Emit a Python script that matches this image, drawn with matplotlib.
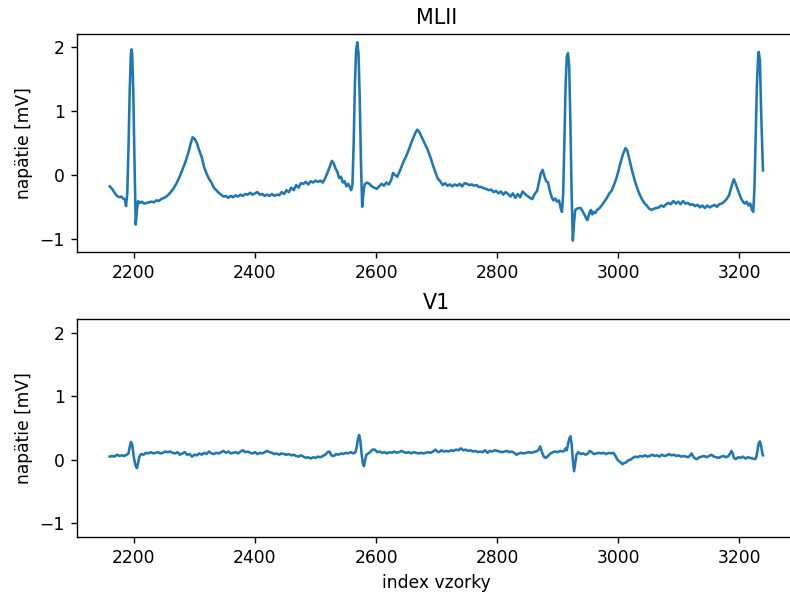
import matplotlib
matplotlib.use("Agg")
import matplotlib.pyplot as plt

# MLII lead: sample index and voltage in mV
mlii_idx = [
    2160, 2164, 2168, 2172, 2176, 2179, 2182, 2185, 2187, 2189, 2191, 2193, 2195, 2196, 2197, 2199,
    2201, 2203, 2205, 2207, 2210, 2213, 2217, 2221, 2225, 2229, 2233, 2237, 2241, 2245, 2250, 2255,
    2260, 2265, 2270, 2275, 2280, 2285, 2290, 2294, 2297, 2300, 2304, 2308, 2312, 2316, 2320, 2324,
    2328, 2332, 2336, 2340, 2344, 2348, 2352, 2356, 2360, 2364, 2368, 2372, 2376, 2380, 2384, 2388,
    2392, 2396, 2400, 2404, 2408, 2412, 2416, 2420, 2424, 2428, 2432, 2436, 2440, 2444, 2448, 2452,
    2456, 2460, 2464, 2468, 2472, 2476, 2480, 2484, 2488, 2492, 2496, 2500, 2504, 2508, 2512, 2516,
    2520, 2524, 2527, 2530, 2533, 2536, 2539, 2542, 2545, 2548, 2551, 2554, 2557, 2559, 2561, 2563,
    2565, 2567, 2569, 2571, 2573, 2575, 2577, 2579, 2581, 2585, 2589, 2593, 2597, 2601, 2605, 2609,
    2613, 2617, 2621, 2625, 2628, 2631, 2635, 2640, 2645, 2650, 2655, 2660, 2665, 2668, 2671, 2675,
    2680, 2685, 2690, 2694, 2698, 2702, 2706, 2710, 2714, 2718, 2722, 2726, 2730, 2734, 2738, 2742,
    2746, 2750, 2754, 2758, 2762, 2766, 2770, 2774, 2778, 2782, 2786, 2790, 2794, 2798, 2802, 2806,
    2810, 2814, 2818, 2822, 2826, 2830, 2834, 2838, 2842, 2846, 2850, 2854, 2858, 2862, 2866, 2869,
    2872, 2875, 2878, 2881, 2884, 2887, 2890, 2893, 2896, 2899, 2902, 2905, 2907, 2909, 2911, 2913,
    2915, 2917, 2919, 2921, 2923, 2925, 2927, 2929, 2932, 2935, 2938, 2941, 2944, 2947, 2949, 2951,
    2953, 2955, 2957, 2959, 2962, 2965, 2968, 2971, 2974, 2977, 2980, 2983, 2986, 2989, 2992, 2996,
    3000, 3004, 3008, 3012, 3015, 3019, 3023, 3027, 3031, 3035, 3039, 3043, 3047, 3051, 3055, 3059,
    3063, 3067, 3071, 3075, 3079, 3083, 3087, 3091, 3095, 3099, 3103, 3107, 3111, 3115, 3119, 3123,
    3127, 3131, 3135, 3139, 3143, 3147, 3151, 3155, 3159, 3163, 3167, 3171, 3175, 3179, 3183, 3186,
    3189, 3191, 3194, 3197, 3200, 3203, 3206, 3209, 3212, 3215, 3218, 3221, 3223, 3225, 3227, 3229,
    3231, 3232, 3234, 3236, 3239,
]
mlii_mv = [
    -0.18, -0.22, -0.28, -0.33, -0.35, -0.34, -0.37, -0.38, -0.49, -0.30, 0.40, 1.30, 1.90, 1.97, 1.92, 1.30,
    0.20, -0.78, -0.55, -0.41, -0.44, -0.42, -0.45, -0.44, -0.43, -0.42, -0.43, -0.40, -0.41, -0.38, -0.36, -0.33,
    -0.28, -0.22, -0.14, -0.04, 0.08, 0.20, 0.35, 0.50, 0.59, 0.57, 0.50, 0.38, 0.28, 0.12, 0.02, -0.06,
    -0.12, -0.20, -0.24, -0.28, -0.31, -0.34, -0.33, -0.36, -0.33, -0.35, -0.32, -0.34, -0.31, -0.33, -0.30, -0.31,
    -0.28, -0.31, -0.29, -0.27, -0.31, -0.30, -0.33, -0.31, -0.33, -0.30, -0.33, -0.31, -0.32, -0.27, -0.30, -0.24,
    -0.27, -0.20, -0.24, -0.16, -0.20, -0.13, -0.14, -0.11, -0.15, -0.10, -0.12, -0.09, -0.11, -0.09, -0.12, -0.05,
    0.04, 0.14, 0.22, 0.18, 0.10, 0.05, -0.05, -0.03, -0.12, -0.10, -0.18, -0.14, -0.20, -0.24, -0.15, 0.50,
    1.40, 1.95, 2.08, 1.90, 1.20, 0.20, -0.50, -0.30, -0.15, -0.12, -0.14, -0.18, -0.20, -0.22, -0.18, -0.14,
    -0.17, -0.12, -0.15, -0.08, 0.03, 0.00, -0.03, 0.08, 0.20, 0.30, 0.42, 0.55, 0.66, 0.71, 0.68, 0.60,
    0.50, 0.40, 0.27, 0.15, 0.04, -0.06, -0.10, -0.16, -0.13, -0.17, -0.15, -0.18, -0.15, -0.17, -0.14, -0.18,
    -0.13, -0.14, -0.16, -0.15, -0.17, -0.16, -0.19, -0.19, -0.21, -0.22, -0.24, -0.23, -0.27, -0.25, -0.29, -0.26,
    -0.31, -0.27, -0.30, -0.34, -0.29, -0.36, -0.30, -0.35, -0.26, -0.30, -0.33, -0.36, -0.38, -0.30, -0.25, -0.12,
    0.02, 0.08, -0.02, -0.10, -0.12, -0.25, -0.35, -0.40, -0.37, -0.42, -0.40, -0.52, -0.58, -0.30, 0.50, 1.40,
    1.85, 1.91, 1.70, 0.80, -0.30, -1.03, -0.75, -0.55, -0.53, -0.52, -0.52, -0.57, -0.62, -0.68, -0.71, -0.64,
    -0.58, -0.55, -0.62, -0.58, -0.60, -0.55, -0.53, -0.50, -0.46, -0.42, -0.38, -0.33, -0.28, -0.25, -0.18, -0.08,
    0.05, 0.20, 0.33, 0.42, 0.38, 0.22, 0.06, -0.08, -0.20, -0.30, -0.38, -0.44, -0.48, -0.53, -0.55, -0.53,
    -0.52, -0.51, -0.48, -0.50, -0.46, -0.44, -0.46, -0.41, -0.45, -0.42, -0.46, -0.41, -0.45, -0.44, -0.47, -0.46,
    -0.49, -0.47, -0.51, -0.48, -0.52, -0.48, -0.51, -0.49, -0.47, -0.50, -0.46, -0.45, -0.42, -0.38, -0.32, -0.22,
    -0.12, -0.07, -0.14, -0.22, -0.30, -0.37, -0.42, -0.45, -0.42, -0.48, -0.45, -0.55, -0.58, -0.20, 0.60, 1.40,
    1.85, 1.93, 1.80, 1.00, 0.07,
]

# V1 lead: sample index and voltage in mV
v1_idx = [
    2160, 2164, 2168, 2172, 2176, 2180, 2184, 2188, 2191, 2193, 2195, 2197, 2199, 2201, 2203, 2205,
    2207, 2209, 2212, 2216, 2220, 2224, 2228, 2232, 2236, 2240, 2244, 2248, 2252, 2256, 2260, 2264,
    2268, 2272, 2276, 2280, 2284, 2288, 2292, 2296, 2300, 2304, 2308, 2312, 2316, 2320, 2324, 2328,
    2332, 2336, 2340, 2344, 2348, 2352, 2356, 2360, 2364, 2368, 2372, 2376, 2380, 2384, 2388, 2392,
    2396, 2400, 2404, 2408, 2412, 2416, 2420, 2424, 2428, 2432, 2436, 2440, 2444, 2448, 2452, 2456,
    2460, 2464, 2468, 2472, 2476, 2480, 2484, 2488, 2492, 2496, 2500, 2504, 2508, 2512, 2516, 2520,
    2523, 2526, 2530, 2534, 2538, 2542, 2546, 2550, 2554, 2558, 2562, 2566, 2568, 2570, 2572, 2574,
    2576, 2578, 2580, 2582, 2584, 2587, 2590, 2594, 2598, 2602, 2606, 2610, 2614, 2618, 2622, 2626,
    2630, 2634, 2638, 2642, 2646, 2650, 2654, 2658, 2662, 2666, 2670, 2674, 2678, 2682, 2686, 2690,
    2694, 2698, 2701, 2704, 2708, 2712, 2716, 2720, 2724, 2728, 2732, 2736, 2740, 2744, 2748, 2752,
    2756, 2760, 2764, 2768, 2772, 2776, 2780, 2784, 2788, 2792, 2796, 2800, 2804, 2808, 2812, 2816,
    2820, 2824, 2828, 2832, 2836, 2840, 2844, 2848, 2852, 2856, 2860, 2864, 2868, 2871, 2874, 2877,
    2880, 2884, 2888, 2892, 2896, 2900, 2904, 2908, 2911, 2913, 2915, 2917, 2919, 2921, 2923, 2925,
    2927, 2929, 2931, 2934, 2938, 2942, 2946, 2950, 2953, 2956, 2960, 2964, 2968, 2972, 2976, 2980,
    2984, 2988, 2992, 2995, 2998, 3001, 3004, 3007, 3010, 3013, 3016, 3020, 3024, 3028, 3032, 3036,
    3040, 3044, 3048, 3052, 3056, 3060, 3064, 3068, 3072, 3076, 3080, 3084, 3088, 3092, 3096, 3100,
    3104, 3108, 3112, 3115, 3118, 3121, 3124, 3127, 3130, 3134, 3138, 3142, 3146, 3150, 3154, 3158,
    3162, 3166, 3170, 3174, 3178, 3182, 3185, 3187, 3189, 3191, 3194, 3198, 3202, 3206, 3210, 3214,
    3218, 3222, 3226, 3228, 3230, 3232, 3234, 3236, 3238, 3239,
]
v1_mv = [
    0.05, 0.06, 0.05, 0.08, 0.06, 0.07, 0.06, 0.08, 0.10, 0.20, 0.28, 0.25, 0.10, -0.02, -0.10, -0.13,
    -0.05, 0.05, 0.09, 0.08, 0.11, 0.10, 0.12, 0.10, 0.11, 0.12, 0.10, 0.11, 0.13, 0.12, 0.13, 0.11,
    0.10, 0.12, 0.08, 0.10, 0.12, 0.08, 0.09, 0.05, 0.08, 0.07, 0.10, 0.08, 0.11, 0.09, 0.13, 0.10,
    0.09, 0.11, 0.10, 0.12, 0.14, 0.11, 0.13, 0.10, 0.11, 0.12, 0.10, 0.13, 0.15, 0.12, 0.13, 0.11,
    0.10, 0.12, 0.09, 0.11, 0.10, 0.12, 0.14, 0.12, 0.11, 0.09, 0.10, 0.08, 0.10, 0.09, 0.08, 0.09,
    0.07, 0.08, 0.06, 0.05, 0.07, 0.05, 0.03, 0.04, 0.02, 0.04, 0.03, 0.05, 0.04, 0.06, 0.08, 0.12,
    0.13, 0.07, 0.06, 0.09, 0.08, 0.10, 0.09, 0.11, 0.10, 0.12, 0.10, 0.12, 0.20, 0.32, 0.39, 0.30,
    0.10, -0.05, -0.10, 0.00, 0.08, 0.10, 0.12, 0.16, 0.16, 0.12, 0.13, 0.11, 0.12, 0.10, 0.12, 0.11,
    0.13, 0.11, 0.12, 0.14, 0.12, 0.11, 0.12, 0.10, 0.12, 0.11, 0.10, 0.11, 0.10, 0.11, 0.12, 0.11,
    0.13, 0.16, 0.13, 0.12, 0.15, 0.13, 0.14, 0.13, 0.15, 0.14, 0.16, 0.15, 0.18, 0.15, 0.16, 0.14,
    0.15, 0.13, 0.14, 0.12, 0.13, 0.12, 0.15, 0.11, 0.14, 0.13, 0.15, 0.14, 0.13, 0.12, 0.13, 0.14,
    0.12, 0.13, 0.11, 0.08, 0.10, 0.11, 0.10, 0.11, 0.12, 0.11, 0.12, 0.13, 0.15, 0.21, 0.12, 0.05,
    0.03, 0.06, 0.10, 0.12, 0.13, 0.12, 0.14, 0.13, 0.14, 0.18, 0.15, 0.24, 0.33, 0.37, 0.25, 0.00,
    -0.18, -0.05, 0.08, 0.12, 0.09, 0.10, 0.08, 0.10, 0.14, 0.12, 0.09, 0.10, 0.11, 0.10, 0.11, 0.09,
    0.11, 0.10, 0.11, 0.07, 0.01, -0.02, -0.04, -0.07, -0.05, -0.04, -0.01, 0.00, 0.03, 0.05, 0.04, 0.06,
    0.05, 0.07, 0.05, 0.06, 0.08, 0.06, 0.07, 0.05, 0.08, 0.06, 0.07, 0.09, 0.07, 0.08, 0.06, 0.07,
    0.05, 0.06, 0.05, 0.04, 0.06, 0.10, 0.05, 0.02, 0.01, 0.04, 0.05, 0.06, 0.04, 0.06, 0.08, 0.05,
    0.04, 0.03, 0.05, 0.06, 0.04, 0.06, 0.10, 0.14, 0.10, 0.03, 0.01, 0.04, 0.03, 0.05, 0.02, 0.04,
    0.03, 0.02, 0.01, 0.04, 0.15, 0.26, 0.29, 0.22, 0.10, 0.07,
]

fig = plt.figure(figsize=(6.4, 4.796), dpi=123.4375)

# both panels run slightly past the right edge of the canvas
ax1 = fig.add_axes([0.0975, 0.5743, 0.9096, 0.3682])
ax2 = fig.add_axes([0.0975, 0.0934, 0.9096, 0.3672])

ax1.plot(mlii_idx, mlii_mv)
ax1.set_title("MLII")
ax1.set_ylabel("napätie [mV]")
ax1.set_ylim(-1.21, 2.21)

ax2.plot(v1_idx, v1_mv)
ax2.set_title("V1")
ax2.set_ylabel("napätie [mV]")
ax2.set_xlabel("index vzorky")
ax2.set_ylim(-1.21, 2.21)

for ax in (ax1, ax2):
    ax.spines["right"].set_visible(False)

fig.savefig("out.png", dpi=123.4375)
